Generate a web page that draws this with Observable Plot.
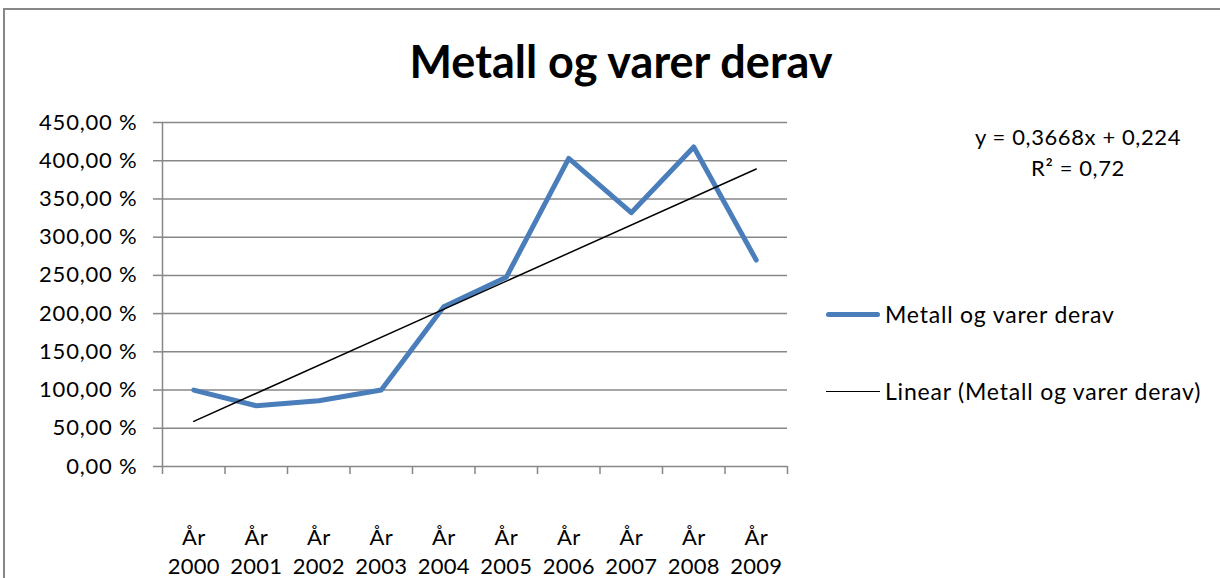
<!DOCTYPE html>
<html>
<head>
<meta charset="utf-8">
<script src="https://cdn.jsdelivr.net/npm/d3@7"></script>
<script src="https://cdn.jsdelivr.net/npm/@observablehq/plot@0.6"></script>
<style>
  body { margin: 0; background: #fff; }
  #wrap { position: relative; width: 1220px; height: 578px; overflow: hidden; font-family: Lato, "Open Sans", sans-serif; color: #000; }
  #frame { position: absolute; left: 3px; top: 8px; width: 1240px; height: 620px; border: 2px solid #878787; box-sizing: border-box; }
  #title { position: absolute; left: 0; top: 35px; width: 1242px; text-align: center; font-weight: bold; font-size: 45px; line-height: 52px; }
  #chart { position: absolute; left: 0; top: 0; }
  .eq { position: absolute; width: 300px; left: 928px; text-align: center; font-size: 22px; letter-spacing: 0.6px; line-height: 24px; }
  .leg { position: absolute; left: 826px; font-size: 23px; letter-spacing: 0.8px; line-height: 26px; display: flex; align-items: center; white-space: nowrap; }
  .sw { display: inline-block; width: 54px; margin-right: 5px; }
</style>
</head>
<body>
<div id="wrap">
  <div id="frame"></div>
  <div id="title"></div>
  <div id="chart"></div>
  <div class="eq" id="eq1" style="top:125px"></div>
  <div class="eq" id="eq2" style="top:156px"></div>
  <div class="leg" style="top:301px"><span class="sw" style="border-top:5px solid #4a7ebb;border-radius:3px"></span><span id="leg1"></span></div>
  <div class="leg" style="top:378px"><span class="sw" style="border-top:1.5px solid #000"></span><span id="leg2"></span></div>
</div>
<script>
const titleText = "Metall og varer derav";
const seriesName = "Metall og varer derav";
const trendName = "Linear (Metall og varer derav)";
const years = ["2000", "2001", "2002", "2003", "2004", "2005", "2006", "2007", "2008", "2009"];
const values = [1.00, 0.795, 0.86, 1.00, 2.09, 2.475, 4.03, 3.32, 4.18, 2.70];
const yTicks = [0, 0.5, 1.0, 1.5, 2.0, 2.5, 3.0, 3.5, 4.0, 4.5];
const trendSlope = 0.3668;
const trendIntercept = 0.224;
const trendR2 = "0,72";

document.getElementById("title").textContent = titleText;
document.getElementById("leg1").textContent = seriesName;
document.getElementById("leg2").textContent = trendName;
document.getElementById("eq1").textContent = "y = " + String(trendSlope).replace(".", ",") + "x + " + String(trendIntercept).replace(".", ",");
document.getElementById("eq2").textContent = "R² = " + trendR2;

const data = years.map((yr, i) => ({x: i + 1, year: yr, value: values[i]}));
const trend = [1, years.length].map(x => ({x, value: trendSlope * x + trendIntercept}));
const bounds = d3.range(0, years.length + 1).map(i => i + 0.5);
const fmt = v => (v * 100).toFixed(2).replace(".", ",") + " %";

const chart = Plot.plot({
  width: 1220,
  height: 578,
  marginLeft: 162,
  marginRight: 433,
  marginTop: 122,
  marginBottom: 112,
  x: {type: "linear", domain: [0.5, years.length + 0.5], axis: null},
  y: {domain: [0, 4.5], axis: null},
  style: {fontFamily: "Lato, 'Open Sans', sans-serif", fontSize: "22px", color: "#000", background: "transparent", overflow: "visible"},
  marks: [
    Plot.ruleY(yTicks, {stroke: "#878787", strokeWidth: 1.5}),
    Plot.axisY({ticks: yTicks, tickSize: 9, tickPadding: 16, stroke: "#878787", strokeWidth: 1.5, tickFormat: fmt, fontSize: 22, label: null}),
    Plot.ruleX([0.5], {stroke: "#878787", strokeWidth: 1.5}),
    Plot.axisX({ticks: bounds, tickSize: 8, stroke: "#878787", strokeWidth: 1.5, tickFormat: () => "", label: null}),
    Plot.text(data, {x: "x", text: d => "År\n" + d.year, frameAnchor: "bottom", lineAnchor: "middle", dy: 84, lineHeight: 1.3, fontSize: 22}),
    Plot.line(data, {x: "x", y: "value", stroke: "#4a7ebb", strokeWidth: 5, strokeLinejoin: "round", strokeLinecap: "round"}),
    Plot.line(trend, {x: "x", y: "value", stroke: "#000", strokeWidth: 1.5})
  ]
});
d3.select(chart).selectAll('g[aria-label="y-axis tick label"] text').style("letter-spacing", "0.8px");
d3.select(chart).selectAll('g[aria-label="text"] text').style("letter-spacing", "0.3px");
document.getElementById("chart").appendChild(chart);
</script>
</body>
</html>
